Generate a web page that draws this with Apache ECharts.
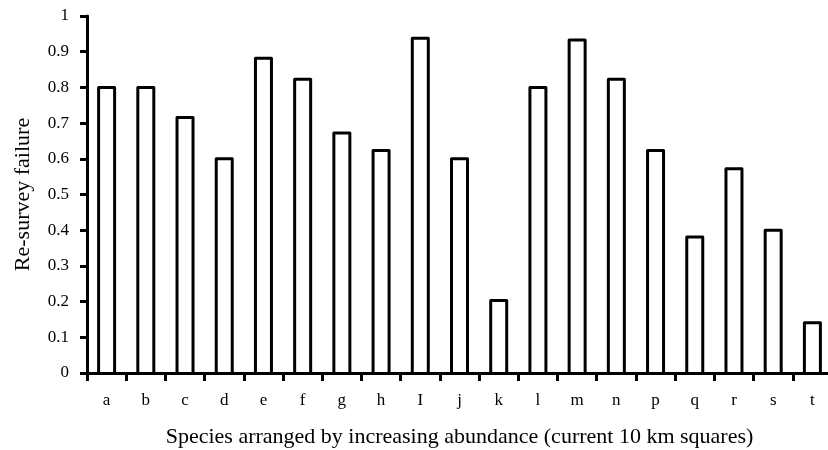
<!DOCTYPE html>
<html>
<head>
<meta charset="utf-8">
<script src="https://cdn.jsdelivr.net/npm/echarts@6/dist/echarts.min.js"></script>
<style>
  html, body { margin: 0; padding: 0; background: #fff; }
  #chart { width: 828px; height: 450px; }
</style>
</head>
<body>
<div id="chart"></div>
<script>
// Species, ordered by increasing abundance (current 10 km squares)
const species = ['a', 'b', 'c', 'd', 'e', 'f', 'g', 'h', 'I', 'j', 'k', 'l', 'm', 'n', 'p', 'q', 'r', 's', 't'];
// Proportion of re-survey failures for each species
const failure = [0.8, 0.8, 0.716, 0.6, 0.882, 0.823, 0.672, 0.623, 0.938, 0.6, 0.203, 0.8, 0.933, 0.823, 0.623, 0.381, 0.572, 0.4, 0.141];
// Y axis tick values
const yTicks = [0, 0.1, 0.2, 0.3, 0.4, 0.5, 0.6, 0.7, 0.8, 0.9, 1];

const FONT = '"Liberation Serif", "Times New Roman", serif';
const BAR_W = 16;
const chart = echarts.init(document.getElementById('chart'), null, { renderer: 'canvas' });

// Open-bottomed outline bars: the base sits on the x axis line
function renderBar(params, api) {
  const idx = api.value(0);
  const top = api.coord([idx, api.value(1)]);
  const base = api.coord([idx, 0]);
  const l = top[0] - BAR_W / 2;
  const r = top[0] + BAR_W / 2;
  return {
    type: 'polyline',
    shape: { points: [[l, base[1]], [l, top[1]], [r, top[1]], [r, base[1]]] },
    style: { fill: null, stroke: '#000', lineWidth: 3, lineJoin: 'round' }
  };
}

chart.setOption({
  backgroundColor: '#ffffff',
  animation: false,
  grid: { left: 87, top: 16, width: 745, height: 357, containLabel: false, outerBoundsMode: 'none' },
  xAxis: {
    type: 'category',
    data: species,
    boundaryGap: true,
    axisLine: { lineStyle: { color: '#000', width: 3 } },
    axisTick: { show: true, length: 8, inside: false, lineStyle: { color: '#000', width: 3 } },
    axisLabel: { color: '#000', fontFamily: FONT, fontSize: 17, margin: 19 },
    name: 'Species arranged by increasing abundance (current 10 km squares)',
    nameLocation: 'middle',
    nameGap: 53,
    nameTextStyle: { color: '#000', fontFamily: FONT, fontSize: 22 }
  },
  yAxis: {
    type: 'value',
    min: 0,
    max: 1,
    interval: 0.1,
    splitLine: { show: false },
    axisLine: { show: true, lineStyle: { color: '#000', width: 3 } },
    axisTick: { show: true, length: 7, lineStyle: { color: '#000', width: 3 } },
    axisLabel: {
      color: '#000', fontFamily: FONT, fontSize: 17, margin: 18,
      formatter: v => {
        const t = yTicks.find(x => Math.abs(x - v) < 1e-9);
        return t === undefined ? '' : String(t);
      }
    },
    name: 'Re-survey failure',
    nameLocation: 'middle',
    nameGap: 53,
    nameRotate: 90,
    nameTextStyle: { color: '#000', fontFamily: FONT, fontSize: 22 }
  },
  series: [{
    type: 'custom',
    renderItem: renderBar,
    encode: { x: 0, y: 1 },
    data: failure.map((v, i) => [i, v]),
    emphasis: { disabled: true }
  }]
});
</script>
</body>
</html>
